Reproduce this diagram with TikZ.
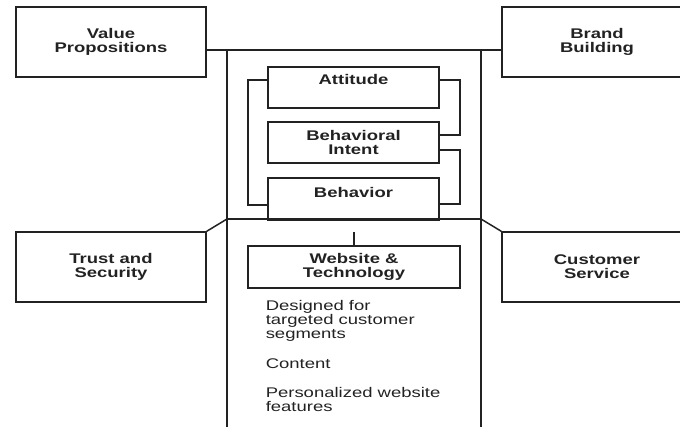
\documentclass[tikz,border=0pt]{standalone}
\usepackage{fontspec}
\setmainfont{Liberation Sans}[FakeStretch=1.32]
\definecolor{ink}{HTML}{222222}
\begin{document}
\begin{tikzpicture}[x=1pt,y=-1pt,line width=1.5pt,draw=ink,text=ink,
  font=\fontsize{14}{14}\selectfont,
  outer/.style={draw,rectangle,inner sep=0pt,minimum width=190pt,minimum height=70pt,align=center,font=\fontsize{14}{14}\selectfont\bfseries},
  inner/.style={draw,rectangle,inner sep=0pt,minimum width=171pt,align=center,font=\fontsize{14}{14}\selectfont\bfseries},
  plain/.style={anchor=base west,inner sep=0pt,align=left}]
\useasboundingbox (0,0) rectangle (680,426);
% outer boxes
\node[outer] (vp) at (111,42) {Value\\Propositions};
\node[outer] (bb) at (597,42) {Brand\\Building};
\node[outer] (ts) at (111,267) {Trust and\\Security};
\node[outer] (cs) at (597,267) {Customer\\Service};
% central frame
\coordinate (topL) at (227,50);
\coordinate (topR) at (481,50);
\coordinate (botL) at (227,432);
\coordinate (botR) at (481,432);
\coordinate (divL) at (227,219);
\coordinate (divR) at (481,219);
\draw (vp.east |- topL) -- (bb.west |- topR);
\draw (topL) -- (botL);
\draw (topR) -- (botR);
\draw (divL) -- (divR);
\draw (divL) -- (ts.north east);
\draw (divR) -- (cs.north west);
% inner boxes
\node[inner,anchor=north,inner ysep=8pt,text height=10pt,text depth=15pt] (att) at (353.5,66) {Attitude};
\node[inner,minimum height=41pt] (bi) at (353.5,142.5) {Behavioral\\Intent};
\node[inner,anchor=north,inner ysep=10pt,text height=10pt,text depth=12pt] (beh) at (353.5,177) {Behavior};
\node[draw,rectangle,inner sep=0pt,minimum width=212pt,minimum height=42pt,align=center,font=\fontsize{14}{14}\selectfont\bfseries] (web) at (354,267) {Website \&\\Technology};
% brackets
\draw (att.west |- 0,80) -- (248,80) |- (beh.west |- 0,205);
\draw (att.east |- 0,80) -- (460,80) |- (bi.east |- 0,135);
\draw (bi.east |- 0,150) -- (460,150) |- (beh.east |- 0,204);
\coordinate (tick) at (354,232);
\draw (tick) -- (web.north);
% list (base = baseline of the last line)
\node[plain] (l1) at (265,338) {Designed for\\targeted customer\\segments};
\node[plain] (l2) at (265,368) {Content};
\node[plain] (l3) at (265,411) {Personalized website\\features};
\end{tikzpicture}
\end{document}
